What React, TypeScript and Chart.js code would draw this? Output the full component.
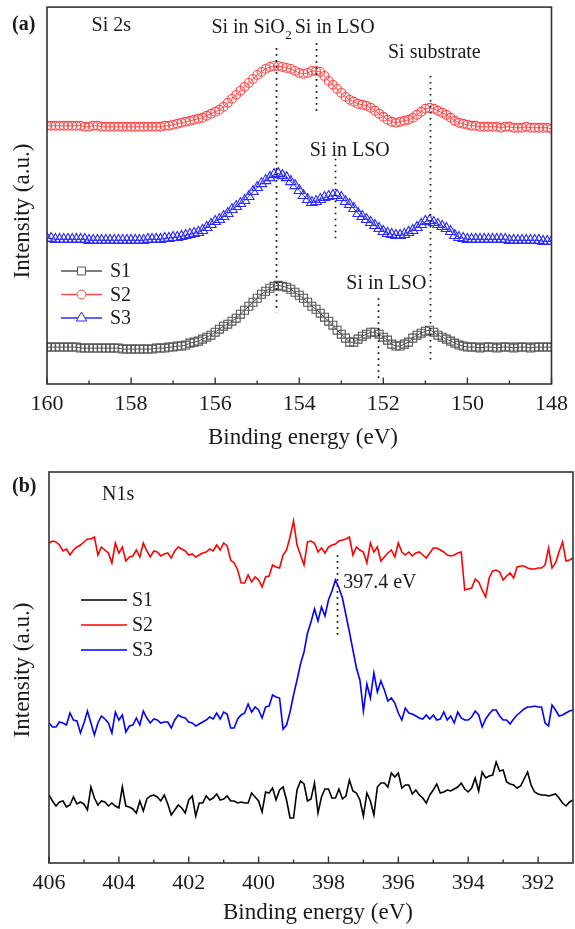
import React, { useEffect, useRef } from 'react';
import { Chart, registerables } from 'chart.js';

Chart.register(...registerables);

const SERIF = '"Liberation Serif", "Times New Roman", Times, serif';

// ---------- Panel (a): Si 2s, 160 -> 148 eV, step 0.1 eV ----------
const S1_A = [
  37, 37, 37, 37, 37, 37, 37, 37, 36, 36,
  36, 36, 36, 36, 36, 36, 36, 36, 35, 35,
  35, 35, 35, 35, 35, 35, 36, 36, 36, 37,
  37, 38, 38, 39, 41, 42, 43, 45, 47, 49,
  52, 55, 58, 60, 63, 66, 70, 74, 78, 82,
  86, 90, 93, 96, 98, 99, 98, 97, 95, 92,
  89, 86, 82, 78, 75, 71, 67, 63, 59, 54,
  50, 46, 42, 42, 45, 48, 50, 52, 52, 50,
  47, 44, 40, 38, 38, 40, 42, 46, 49, 51,
  53, 54, 52, 49, 47, 45, 43, 41, 39, 38,
  37, 37, 37, 36, 37, 37, 37, 36, 37, 37,
  37, 36, 37, 37, 37, 36, 37, 37, 37, 37,
  37,
];
const S2_A = [
  259, 259, 259, 259, 259, 259, 259, 259, 259, 258,
  258, 259, 259, 258, 258, 258, 258, 258, 258, 258,
  258, 258, 258, 258, 258, 258, 258, 258, 259, 259,
  260, 261, 262, 263, 264, 265, 266, 267, 269, 271,
  273, 275, 278, 282, 286, 290, 294, 298, 302, 306,
  310, 313, 316, 318, 319, 319, 318, 317, 316, 314,
  312, 311, 312, 314, 314, 313, 309, 304, 300, 296,
  292, 288, 285, 283, 281, 280, 279, 277, 274, 271,
  268, 265, 263, 262, 263, 264, 265, 267, 270, 273,
  276, 277, 276, 274, 272, 270, 267, 264, 262, 261,
  260, 259, 259, 258, 258, 258, 258, 258, 257, 258,
  258, 257, 257, 257, 258, 257, 257, 257, 257, 257,
  256,
];
const S3_A = [
  146, 146, 145, 145, 145, 145, 145, 145, 145, 145,
  144, 144, 144, 144, 144, 144, 144, 144, 144, 144,
  144, 144, 144, 144, 145, 145, 145, 145, 146, 146,
  147, 147, 148, 149, 150, 151, 152, 154, 157, 160,
  163, 165, 168, 171, 175, 178, 181, 184, 188, 193,
  197, 201, 204, 207, 210, 211, 209, 207, 203, 199,
  194, 189, 185, 182, 183, 185, 187, 188, 189, 189,
  187, 183, 180, 176, 171, 168, 165, 162, 159, 156,
  153, 151, 150, 149, 149, 150, 152, 154, 157, 160,
  163, 164, 162, 160, 158, 156, 153, 149, 147, 146,
  145, 145, 145, 145, 145, 145, 145, 145, 145, 145,
  144, 144, 144, 144, 144, 144, 144, 144, 143, 143,
  143,
];
const E_A = S1_A.map((_, i) => Math.round((160 - i * 0.1) * 10) / 10);
const XTICKS_A = [160, 158, 156, 154, 152, 150, 148];
const XMINOR_A = [159, 157, 155, 153, 151, 149];

// ---------- Panel (b): N1s, 406 -> 391 eV, step 0.1 eV ----------
const S1_B = [
  68, 62, 57, 61, 62, 56, 58, 66, 59, 61,
  59, 53, 76, 65, 58, 62, 61, 57, 60, 57,
  55, 76, 57, 56, 54, 50, 62, 52, 64, 67,
  68, 66, 62, 68, 59, 48, 53, 58, 55, 50,
  63, 67, 47, 60, 60, 67, 63, 65, 69, 63,
  64, 67, 62, 62, 60, 61, 60, 60, 70, 66,
  62, 51, 71, 70, 75, 63, 73, 76, 63, 45,
  45, 73, 82, 79, 62, 64, 80, 50, 66, 74,
  74, 65, 65, 74, 64, 67, 83, 72, 70, 63,
  47, 70, 62, 48, 76, 80, 80, 76, 90, 86,
  90, 75, 78, 78, 69, 73, 68, 65, 60, 68,
  73, 79, 70, 71, 73, 72, 74, 76, 80, 74,
  71, 75, 85, 72, 91, 85, 87, 88, 101, 92,
  93, 81, 79, 78, 75, 77, 84, 91, 78, 71,
  69, 68, 68, 67, 68, 69, 65, 60, 57, 61,
  63,
];
const S2_B = [
  320, 322, 321, 318, 312, 314, 308, 313, 316, 318,
  321, 324, 324, 326, 308, 316, 313, 310, 300, 320,
  310, 316, 302, 306, 307, 313, 306, 320, 312, 306,
  312, 311, 307, 309, 310, 305, 312, 316, 314, 312,
  308, 309, 306, 308, 310, 311, 314, 312, 318, 313,
  320, 317, 303, 300, 293, 280, 280, 288, 281, 286,
  283, 276, 286, 287, 298, 296, 295, 308, 313, 326,
  342, 318, 308, 298, 321, 322, 320, 311, 315, 310,
  316, 318, 319, 322, 323, 324, 326, 308, 316, 313,
  311, 300, 320, 311, 316, 302, 306, 310, 313, 306,
  320, 311, 308, 311, 307, 310, 311, 308, 305, 310,
  315, 315, 313, 311, 308, 307, 308, 310, 311, 273,
  274, 275, 284, 281, 273, 266, 285, 292, 293, 291,
  283, 287, 290, 285, 296, 297, 297, 295, 294, 294,
  295, 295, 298, 315, 295, 300, 311, 321, 302, 303,
  305,
];
const S3_B = [
  140, 136, 136, 141, 140, 138, 150, 143, 142, 130,
  140, 152, 140, 128, 140, 147, 144, 140, 130, 151,
  143, 148, 131, 137, 138, 145, 138, 152, 145, 140,
  144, 143, 140, 141, 141, 135, 143, 148, 146, 145,
  141, 140, 137, 139, 141, 143, 146, 144, 150, 144,
  151, 149, 135, 135, 144, 148, 150, 159, 151, 156,
  153, 145, 156, 157, 168, 166, 165, 134, 138, 151,
  168, 183, 199, 211, 230, 241, 254, 242, 256, 247,
  263, 272, 283, 275, 265, 248, 231, 213, 195, 183,
  152, 179, 165, 190, 171, 182, 173, 162, 165, 160,
  150, 143, 155, 150, 149, 147, 145, 144, 148, 144,
  148, 143, 144, 151, 143, 147, 140, 151, 145, 143,
  143, 146, 152, 148, 136, 144, 149, 153, 153, 147,
  143, 143, 139, 144, 148, 151, 154, 156, 156, 157,
  156, 156, 140, 137, 158, 153, 147, 148, 150, 152,
  153,
];
const E_B = S1_B.map((_, i) => Math.round((406 - i * 0.1) * 10) / 10);
const XTICKS_B = [406, 404, 402, 400, 398, 396, 394, 392];
const XMINOR_B = [405, 403, 401, 399, 397, 395, 393];

// ---------- annotations ----------
type VLine = { e: number; from: number; to: number };
type Label = { text: string; sub?: string; e: number; v: number };

const LINES_A: VLine[] = [
  { e: 154.55, from: 72, to: 337 },
  { e: 153.6, from: 271, to: 342 },
  { e: 153.16, from: 144, to: 226 },
  { e: 152.13, from: 6, to: 86 },
  { e: 150.88, from: 21, to: 309 },
];
const LABELS_A: Label[] = [
  { text: 'Si 2s', e: 158.94, v: 359 },
  { text: 'Si in SiO', sub: '2', e: 156.09, v: 357 },
  { text: 'Si in LSO', e: 154.11, v: 357 },
  { text: 'Si substrate', e: 151.89, v: 332 },
  { text: 'Si in LSO', e: 153.75, v: 234 },
  { text: 'Si in LSO', e: 152.88, v: 101 },
];
const LINES_B: VLine[] = [{ e: 397.76, from: 226, to: 308 }];
const LABELS_B: Label[] = [
  { text: 'N1s', e: 404.48, v: 368 },
  { text: '397.4 eV', e: 397.58, v: 280 },
];

const pts = (xs: number[], ys: number[]) => xs.map((x, i) => ({ x, y: ys[i] }));

function drawMarker(ctx: CanvasRenderingContext2D, style: string, x: number, y: number, r: number) {
  ctx.beginPath();
  if (style === 'rect') {
    const s = r * Math.SQRT1_2;
    ctx.rect(x - s, y - s, 2 * s, 2 * s);
  } else if (style === 'circle') {
    ctx.arc(x, y, r, 0, Math.PI * 2);
  } else if (style === 'triangle') {
    let a = 0;
    ctx.moveTo(x + Math.sin(a) * r, y - Math.cos(a) * r);
    a += (2 * Math.PI) / 3;
    ctx.lineTo(x + Math.sin(a) * r, y - Math.cos(a) * r);
    a += (2 * Math.PI) / 3;
    ctx.lineTo(x + Math.sin(a) * r, y - Math.cos(a) * r);
    ctx.closePath();
  }
  ctx.fillStyle = '#fff';
  ctx.fill();
  ctx.stroke();
}

type DecorCfg = {
  major: number[];
  minor: number[];
  lines: VLine[];
  labels: Label[];
  legend: { lx1: number; lx2: number; mx: number; tx: number; y0: number; dy: number; markers: boolean };
  yTitle: { x: number; y: number };
  xTitle: { left: number; y: number };
  letter: { text: string; x: number; y: number };
};

function makeDecor(cfg: DecorCfg) {
  return {
    id: 'decor',
    afterDraw(chart: any) {
      const { ctx, chartArea: a, scales } = chart;
      const xs = scales.x;
      const ys = scales.y;
      ctx.save();
      // frame
      ctx.strokeStyle = '#333';
      ctx.lineWidth = 1.6;
      ctx.strokeRect(a.left, a.top, a.right - a.left, a.bottom - a.top);
      // inward ticks
      ctx.lineWidth = 1.4;
      ctx.beginPath();
      for (const t of cfg.major) {
        const x = xs.getPixelForValue(t);
        ctx.moveTo(x, a.bottom);
        ctx.lineTo(x, a.bottom - 6.5);
      }
      for (const t of cfg.minor) {
        const x = xs.getPixelForValue(t);
        ctx.moveTo(x, a.bottom);
        ctx.lineTo(x, a.bottom - 3.5);
      }
      ctx.stroke();
      // dotted guide lines
      ctx.strokeStyle = '#111';
      ctx.lineWidth = 1.7;
      ctx.setLineDash([1.7, 4.3]);
      for (const l of cfg.lines) {
        const x = Math.round(xs.getPixelForValue(l.e)) + 0.5;
        ctx.beginPath();
        ctx.moveTo(x, ys.getPixelForValue(l.to));
        ctx.lineTo(x, ys.getPixelForValue(l.from));
        ctx.stroke();
      }
      ctx.setLineDash([]);
      // text labels
      ctx.fillStyle = '#1a1a1a';
      ctx.textBaseline = 'middle';
      ctx.textAlign = 'left';
      for (const lab of cfg.labels) {
        const x = xs.getPixelForValue(lab.e);
        const y = ys.getPixelForValue(lab.v);
        ctx.font = `20px ${SERIF}`;
        ctx.fillText(lab.text, x, y);
        if (lab.sub) {
          const w = ctx.measureText(lab.text).width;
          ctx.font = `13px ${SERIF}`;
          ctx.fillText(lab.sub, x + w + 0.5, y + 8);
        }
      }
      // legend
      const L = cfg.legend;
      chart.data.datasets.forEach((ds: any, i: number) => {
        const y = L.y0 + i * L.dy;
        ctx.strokeStyle = ds.borderColor;
        ctx.lineWidth = L.markers ? 1.3 : 1.6;
        ctx.beginPath();
        ctx.moveTo(L.lx1, y);
        ctx.lineTo(L.lx2, y);
        ctx.stroke();
        if (L.markers) {
          ctx.lineWidth = 1;
          drawMarker(ctx, ds.pointStyle, L.mx, y, ds.pointRadius);
        }
        ctx.fillStyle = '#1a1a1a';
        ctx.font = `20px ${SERIF}`;
        ctx.fillText(ds.label, L.tx, y + 1);
      });
      // axis titles
      ctx.fillStyle = '#1a1a1a';
      ctx.font = `23px ${SERIF}`;
      ctx.textAlign = 'left';
      ctx.fillText('Binding energy (eV)', cfg.xTitle.left, cfg.xTitle.y);
      ctx.save();
      ctx.translate(cfg.yTitle.x, cfg.yTitle.y);
      ctx.rotate(-Math.PI / 2);
      ctx.textAlign = 'center';
      ctx.fillText('Intensity (a.u.)', 0, 0);
      ctx.restore();
      // panel letter
      ctx.font = `bold 20px ${SERIF}`;
      ctx.textAlign = 'left';
      ctx.fillText(cfg.letter.text, cfg.letter.x, cfg.letter.y);
      ctx.restore();
    },
  };
}

function baseOptions(pad: any, xmin: number, xmax: number, ticks: number[], xh: number, ymax: number) {
  return {
    responsive: false,
    animation: false,
    devicePixelRatio: 1,
    events: [],
    layout: { padding: pad },
    plugins: { legend: { display: false }, tooltip: { enabled: false } },
    scales: {
      x: {
        type: 'linear',
        reverse: true,
        min: xmin,
        max: xmax,
        grid: { display: false, drawTicks: false },
        border: { display: false },
        ticks: {
          font: { family: SERIF, size: 22 },
          color: '#1a1a1a',
          padding: 7,
          maxRotation: 0,
          autoSkip: false,
        },
        afterBuildTicks: (s: any) => {
          s.ticks = ticks.map((v) => ({ value: v }));
        },
        afterFit: (s: any) => {
          s.height = xh;
        },
      },
      y: { display: false, min: 0, max: ymax },
    },
  };
}

function PanelA() {
  const ref = useRef<HTMLCanvasElement>(null);
  useEffect(() => {
    if (!ref.current) return;
    const mk = { borderWidth: 1, pointBorderWidth: 1.1, pointBackgroundColor: 'rgba(255,255,255,0)', tension: 0 };
    const chart = new Chart(ref.current, {
      type: 'line',
      data: {
        datasets: [
          { label: 'S1', data: pts(E_A, S1_A), borderColor: '#555555', pointBorderColor: '#555555', pointStyle: 'rect', pointRadius: 5.6, ...mk },
          { label: 'S2', data: pts(E_A, S2_A), borderColor: '#ff4a4a', pointBorderColor: '#ff4a4a', pointStyle: 'circle', pointRadius: 4.4, ...mk },
          { label: 'S3', data: pts(E_A, S3_A), borderColor: '#2b2bff', pointBorderColor: '#2b2bff', pointStyle: 'triangle', pointRadius: 6, ...mk },
        ],
      } as any,
      options: baseOptions({ left: 47, right: 19, top: 6, bottom: 0 }, 148, 160, XTICKS_A, 71, 378) as any,
      plugins: [
        makeDecor({
          major: XTICKS_A,
          minor: XMINOR_A,
          lines: LINES_A,
          labels: LABELS_A,
          legend: { lx1: 61, lx2: 102, mx: 81.5, tx: 110, y0: 271, dy: 23.5, markers: true },
          yTitle: { x: 23, y: 211 },
          xTitle: { left: 208, y: 438 },
          letter: { text: '(a)', x: 12, y: 25 },
        }),
      ],
    });
    return () => chart.destroy();
  }, []);
  return <canvas ref={ref} width={575} height={455} style={{ position: 'absolute', left: 0, top: 0, width: 575, height: 455 }} />;
}

function PanelB() {
  const ref = useRef<HTMLCanvasElement>(null);
  useEffect(() => {
    if (!ref.current) return;
    const ln = { borderWidth: 1.6, pointRadius: 0, tension: 0 };
    const chart = new Chart(ref.current, {
      type: 'line',
      data: {
        datasets: [
          { label: 'S1', data: pts(E_B, S1_B), borderColor: '#000000', ...ln },
          { label: 'S2', data: pts(E_B, S2_B), borderColor: '#ff0000', ...ln },
          { label: 'S3', data: pts(E_B, S3_B), borderColor: '#0000ff', ...ln },
        ],
      } as any,
      options: baseOptions({ left: 49, right: 2, top: 17, bottom: 0 }, 391, 406, XTICKS_B, 66, 391) as any,
      plugins: [
        makeDecor({
          major: XTICKS_B,
          minor: XMINOR_B,
          lines: LINES_B,
          labels: LABELS_B,
          legend: { lx1: 81, lx2: 127, mx: 104, tx: 132, y0: 145, dy: 25, markers: false },
          yTitle: { x: 23, y: 215 },
          xTitle: { left: 223, y: 458 },
          letter: { text: '(b)', x: 12, y: 32 },
        }),
      ],
    });
    return () => chart.destroy();
  }, []);
  return <canvas ref={ref} width={575} height={474} style={{ position: 'absolute', left: 0, top: 455, width: 575, height: 474 }} />;
}

export default function App() {
  return (
    <div style={{ position: 'absolute', left: 0, top: 0, width: 575, height: 929, background: '#ffffff', overflow: 'hidden' }}>
      <PanelA />
      <PanelB />
    </div>
  );
}
